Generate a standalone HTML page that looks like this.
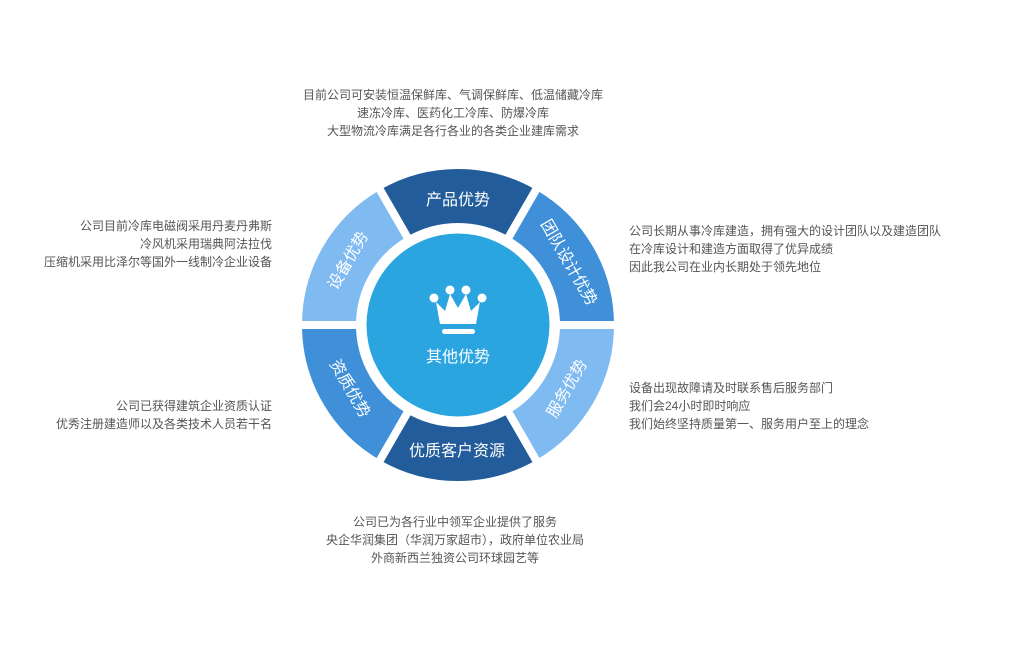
<!DOCTYPE html>
<html><head><meta charset="utf-8"><style>
html,body{margin:0;padding:0;background:#fff;}
body{width:1009px;height:647px;position:relative;overflow:hidden;font-family:"Liberation Sans","Noto Sans CJK SC",sans-serif;}
.t{position:absolute;font-size:12px;line-height:18px;color:#555;white-space:nowrap;}
</style></head><body>
<svg width="1009" height="647" style="position:absolute;left:0;top:0" font-family="Liberation Sans, Noto Sans CJK SC, sans-serif">
<g transform="translate(458,325)" stroke="#fff" stroke-width="8">
<path d="M-80,-138.6 A160,160 0 0 1 80,-138.6 L49,-84.9 A98,98 0 0 0 -49,-84.9 Z" fill="#225c9a"/>
<path d="M80,-138.6 A160,160 0 0 1 160,0 L98,0 A98,98 0 0 0 49,-84.9 Z" fill="#3f90d9"/>
<path d="M160,0 A160,160 0 0 1 80,138.6 L49,84.9 A98,98 0 0 0 98,0 Z" fill="#7fbaf1"/>
<path d="M80,138.6 A160,160 0 0 1 -80,138.6 L-49,84.9 A98,98 0 0 0 49,84.9 Z" fill="#225c9a"/>
<path d="M-80,138.6 A160,160 0 0 1 -160,0 L-98,0 A98,98 0 0 0 -49,84.9 Z" fill="#3f90d9"/>
<path d="M-160,0 A160,160 0 0 1 -80,-138.6 L-49,-84.9 A98,98 0 0 0 -98,0 Z" fill="#7fbaf1"/>
<circle r="91.5" fill="#2ba5e0" stroke="none"/>
</g>
<g fill="#fff" font-size="16" text-anchor="middle" dominant-baseline="middle">
<text x="458" y="201">产品优势</text>
<text x="457" y="452">优质客户资源</text>
<text transform="translate(568,263) rotate(60)">团队设计优势</text>
<text transform="translate(568,389) rotate(-60)">服务优势</text>
<text transform="translate(349,389) rotate(60)">资质优势</text>
<text transform="translate(349,261) rotate(-60)">设备优势</text>
<text x="458" y="358">其他优势</text>
</g>
<g fill="#fff">
<circle cx="434" cy="298" r="4.5"/><circle cx="450" cy="290" r="4.5"/><circle cx="466" cy="290" r="4.5"/><circle cx="482" cy="298" r="4.5"/>
<path d="M436,302 L445,311 L450,294 L458,308 L466,294 L471,311 L480,302 L476,324 L440,324 Z"/>
<rect x="442" y="329" width="33" height="5" rx="2.5"/>
</g>
</svg>
<div class="t" style="left:253px;top:86px;width:400px;text-align:center">目前公司可安装恒温保鲜库、气调保鲜库、低温储藏冷库<br>速冻冷库、医药化工冷库、防爆冷库<br>大型物流冷库满足各行各业的各类企业建库需求</div>
<div class="t" style="right:737px;top:217px;text-align:right">公司目前冷库电磁阀采用丹麦丹弗斯<br>冷风机采用瑞典阿法拉伐<br>压缩机采用比泽尔等国外一线制冷企业设备</div>
<div class="t" style="right:737px;top:397px;text-align:right">公司已获得建筑企业资质认证<br>优秀注册建造师以及各类技术人员若干名</div>
<div class="t" style="left:629px;top:222px">公司长期从事冷库建造，拥有强大的设计团队以及建造团队<br>在冷库设计和建造方面取得了优异成绩<br>因此我公司在业内长期处于领先地位</div>
<div class="t" style="left:629px;top:379px">设备出现故障请及时联系售后服务部门<br>我们会24小时即时响应<br>我们始终坚持质量第一、服务用户至上的理念</div>
<div class="t" style="left:255px;top:513px;width:400px;text-align:center">公司已为各行业中领军企业提供了服务<br>央企华润集团（华润万家超市），政府单位农业局<br>外商新西兰独资公司环球园艺等</div>
</body></html>
